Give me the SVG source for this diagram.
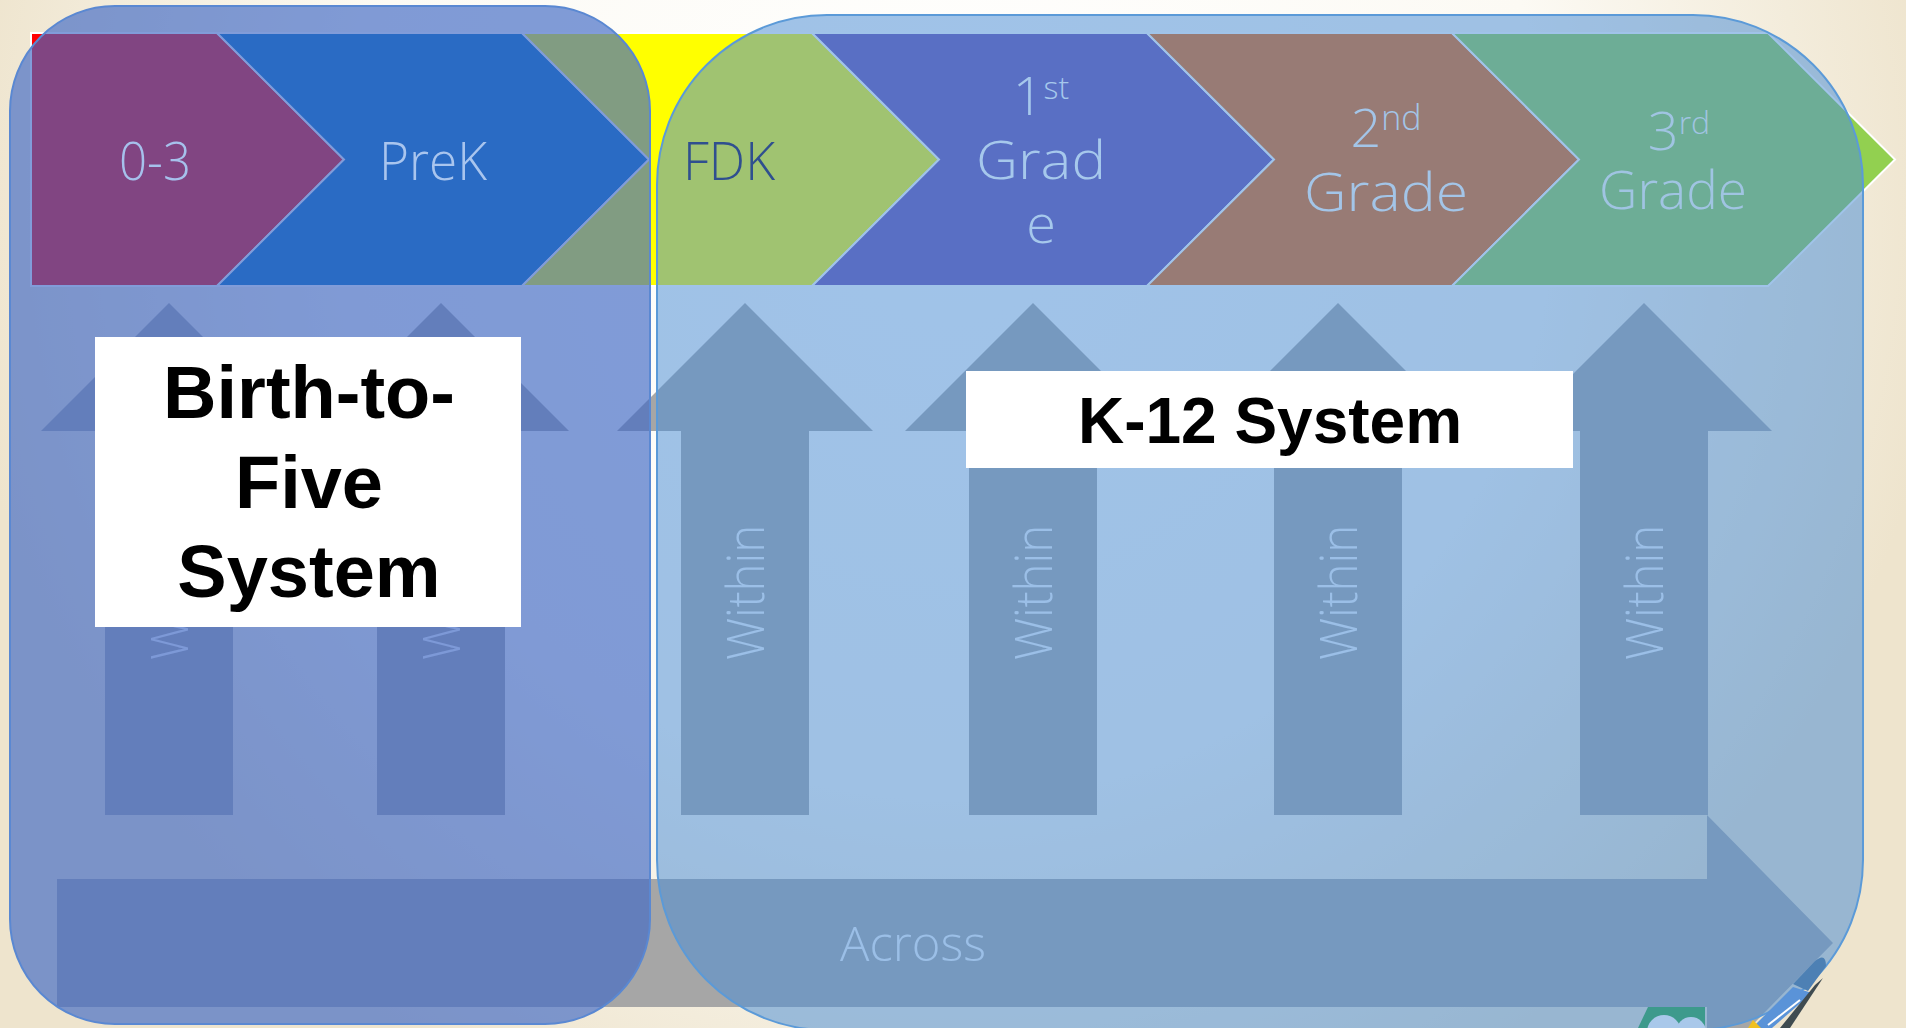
<svg xmlns="http://www.w3.org/2000/svg" width="1906" height="1028" viewBox="0 0 1906 1028">
<defs>
<radialGradient id="bg" gradientUnits="userSpaceOnUse" cx="953" cy="200" r="1000">
<stop offset="0" stop-color="#ffffff"/>
<stop offset="0.6" stop-color="#fcfaf4"/>
<stop offset="1" stop-color="#eee4cd"/>
</radialGradient>
</defs>
<style>
.chev{stroke:#ffffff;stroke-width:2;stroke-linejoin:miter}
.arrow{fill:#a6a6a6}
.lt{font-family:"Open Sans","Lato","DejaVu Sans",sans-serif;font-weight:300}
.within{font-size:52px;fill:#f4f6fa}
.clbl{font-size:54px;text-anchor:middle}
.bold{font-family:"Liberation Sans",Arial,sans-serif;font-weight:700;fill:#000000;text-anchor:middle}
.lbox{fill:#ffffff}
</style>
<rect width="1906" height="1028" fill="url(#bg)"/>

<g id="chevrons">
<g id="chev-0-3"><polygon class="chev" fill="#ff0000" points="31,33 217,33 344,159.5 217,286 31,286"/></g>
<g id="chev-prek"><polygon class="chev" fill="#0071c2" points="217,33 522,33 649,159.5 522,286 217,286 344,159.5"/></g>
<g id="chev-fdk"><polygon class="chev" fill="#ffff00" points="522,33 812,33 939,159.5 812,286 522,286 649,159.5"/></g>
<g id="chev-1st"><polygon class="chev" fill="#684db1" points="812,33 1147,33 1274,159.5 1147,286 812,286 939,159.5"/></g>
<g id="chev-2nd"><polygon class="chev" fill="#ed660a" points="1147,33 1452,33 1579,159.5 1452,286 1147,286 1274,159.5"/></g>
<g id="chev-3rd"><polygon class="chev" fill="#92d050" points="1452,33 1768,33 1895,159.5 1768,286 1452,286 1579,159.5"/></g>
</g>

<g id="arrows">
<g id="within-0-3"><polygon class="arrow" points="169,303 297,431 233,431 233,815 105,815 105,431 41,431"/>
<text class="lt within" transform="translate(188,592.5) rotate(-90)" text-anchor="middle" textLength="135" lengthAdjust="spacingAndGlyphs">Within</text></g>
<g id="within-prek"><polygon class="arrow" points="441,303 569,431 505,431 505,815 377,815 377,431 313,431"/>
<text class="lt within" transform="translate(460,592.5) rotate(-90)" text-anchor="middle" textLength="135" lengthAdjust="spacingAndGlyphs">Within</text></g>
<g id="within-fdk"><polygon class="arrow" points="745,303 873,431 809,431 809,815 681,815 681,431 617,431"/>
<text class="lt within" transform="translate(764,592.5) rotate(-90)" text-anchor="middle" textLength="135" lengthAdjust="spacingAndGlyphs">Within</text></g>
<g id="within-1st"><polygon class="arrow" points="1033,303 1161,431 1097,431 1097,815 969,815 969,431 905,431"/>
<text class="lt within" transform="translate(1052,592.5) rotate(-90)" text-anchor="middle" textLength="135" lengthAdjust="spacingAndGlyphs">Within</text></g>
<g id="within-2nd"><polygon class="arrow" points="1338,303 1466,431 1402,431 1402,815 1274,815 1274,431 1210,431"/>
<text class="lt within" transform="translate(1357,592.5) rotate(-90)" text-anchor="middle" textLength="135" lengthAdjust="spacingAndGlyphs">Within</text></g>
<g id="within-3rd"><polygon class="arrow" points="1644,303 1772,431 1708,431 1708,815 1580,815 1580,431 1516,431"/>
<text class="lt within" transform="translate(1663,592.5) rotate(-90)" text-anchor="middle" textLength="135" lengthAdjust="spacingAndGlyphs">Within</text></g>
<g id="across"><polygon class="arrow" points="57,879 1707,879 1707,815 1833,943 1707,1071 1707,1007 57,1007"/>
<text class="lt" x="840" y="961" font-size="48" fill="#f4f6fa" textLength="146" lengthAdjust="spacingAndGlyphs">Across</text></g>
</g>

<g id="birth-to-five-region"><rect x="10" y="6" width="640" height="1018" rx="105" ry="105" fill="#3f68c6" fill-opacity="0.66" stroke="#5a88d2" stroke-width="2"/></g>
<g id="k12-region"><rect x="657" y="15" width="1206" height="1015" rx="170" ry="170" fill="#4b8dd6" fill-opacity="0.53" stroke="#5b9ad8" stroke-width="2"/></g>

<g id="chevron-labels" class="lt">
<text class="clbl" x="155" y="180" fill="#a6c1ec" textLength="72" lengthAdjust="spacingAndGlyphs">0-3</text>
<text class="clbl" x="433" y="180" fill="#a9c5ee" textLength="108" lengthAdjust="spacingAndGlyphs">PreK</text>
<text class="clbl" x="729" y="180" fill="#2f4f8f" textLength="92" lengthAdjust="spacingAndGlyphs">FDK</text>
<text class="clbl" fill="#a6c8ec" font-size="56"><tspan x="1041" y="115">1<tspan font-size="32" dy="-16">st</tspan></tspan><tspan x="1041" y="179" textLength="130" lengthAdjust="spacingAndGlyphs">Grad</tspan><tspan x="1041" y="243">e</tspan></text>
<text class="clbl" fill="#a3c5e8" font-size="57"><tspan x="1386" y="147">2<tspan font-size="34" dy="-17">nd</tspan></tspan><tspan x="1386" y="211" textLength="164" lengthAdjust="spacingAndGlyphs">Grade</tspan></text>
<text class="clbl" fill="#a0c4e2" font-size="51"><tspan x="1679" y="150">3<tspan font-size="32" dy="-16">rd</tspan></tspan><tspan x="1673" y="209" textLength="148" lengthAdjust="spacingAndGlyphs">Grade</tspan></text>
</g>

<g id="birth-to-five-label">
<rect class="lbox" x="95" y="337" width="426" height="290"/>
<text class="bold" font-size="74"><tspan x="309" y="418">Birth-to-</tspan><tspan x="309" y="508">Five</tspan><tspan x="309" y="597">System</tspan></text>
</g>
<g id="k12-label">
<rect class="lbox" x="966" y="371" width="607" height="97"/>
<text class="bold" x="1270" y="443" font-size="64">K-12 System</text>
</g>

<g id="decoration">
<polygon points="1648,1007 1705,1007 1705,1028 1638,1028" fill="#3d9a8c"/>
<circle cx="1664" cy="1032" r="17" fill="#a9c8ea"/>
<circle cx="1691" cy="1032" r="15" fill="#a9c8ea"/>
<path d="M1793,984 L1815,961 Q1826,952 1826,966 L1808,991 Z" fill="#4d80b4"/>
<polygon points="1793,987 1812,993 1772,1028 1752,1028" fill="#5a93d8"/>
<polygon points="1815,985 1823,978 1790,1028 1780,1028" fill="#3f4b50"/>
<line x1="1800" y1="1000" x2="1768" y2="1025" stroke="#ffffff" stroke-width="2"/>
<polygon points="1748,1028 1753,1020 1761,1028" fill="#f0c020"/>
</g>
</svg>
